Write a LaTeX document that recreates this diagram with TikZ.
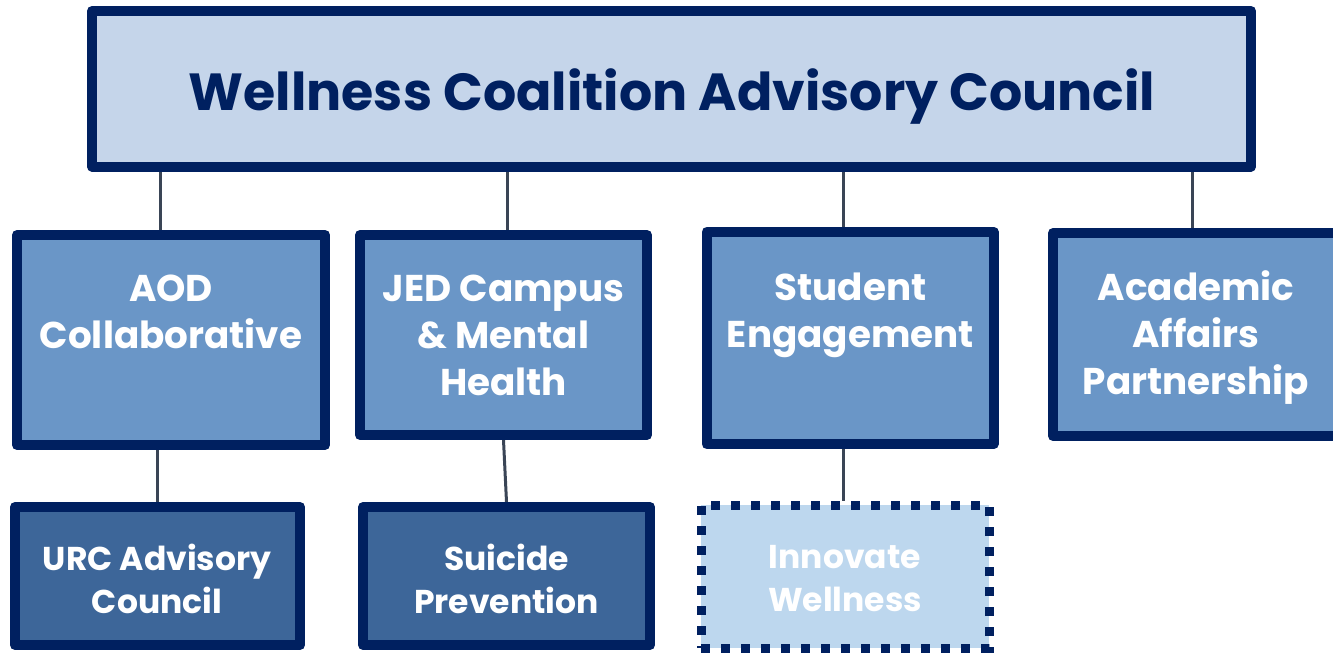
\documentclass[tikz,border=0pt]{standalone}
\usepackage{fontspec}
\usetikzlibrary{backgrounds}
\newfontfamily\gothic{Poppins}
\definecolor{navy}{RGB}{0,32,96}
\definecolor{topfill}{RGB}{197,213,234}
\definecolor{midfill}{RGB}{106,150,199}
\definecolor{lowfill}{RGB}{61,102,153}
\definecolor{innfill}{RGB}{189,215,238}
\definecolor{conncol}{RGB}{58,69,86}
\begin{document}
\begin{tikzpicture}[x=1pt,y=-1pt,
  boxbase/.style={rectangle,inner sep=0pt,draw=navy,line width=10pt,line join=round},
  topbox/.style={boxbase,fill=topfill},
  midbox/.style={boxbase,fill=midfill},
  lowbox/.style={boxbase,fill=lowfill},
  innbox/.style={rectangle,inner sep=0pt,draw=navy,fill=innfill,line width=9pt,dash pattern=on 9pt off 11pt},
  conn/.style={draw=conncol,line width=3pt},
  toptext/.style={inner sep=0pt,anchor=base,text=navy,font=\gothic\bfseries\fontsize{52.2}{60}\selectfont},
  midtext/.style={inner sep=0pt,anchor=base,align=center,text=white,font=\gothic\bfseries\fontsize{37.3}{47}\selectfont},
  lowtext/.style={inner sep=0pt,anchor=base,align=center,text=white,font=\gothic\bfseries\fontsize{33}{43}\selectfont}
]
\useasboundingbox (0,0) rectangle (1333,653);
\coordinate (x1) at (160,0);
\coordinate (x2) at (507,0);
\coordinate (x3) at (843.3,0);
\coordinate (x4) at (1192,0);
\coordinate (x5) at (157,0);
\node[topbox,minimum width=1159pt,minimum height=155.5pt] (wcac) at (671.5,88.75) {};
\node[midbox,minimum width=308pt,minimum height=210pt] (aod) at (171,340) {};
\node[midbox,minimum width=287pt,minimum height=200pt] (jed) at (503.5,335) {};
\node[midbox,minimum width=286.8pt,minimum height=212.6pt] (stu) at (850.1,338) {};
\node[midbox,minimum width=286pt,minimum height=203pt] (aap) at (1196,334.5) {};
\node[lowbox,minimum width=285pt,minimum height=138pt] (urc) at (157.5,576) {};
\node[lowbox,minimum width=287pt,minimum height=138pt] (sui) at (506.5,576) {};
\node[innbox,minimum width=288pt,minimum height=143pt] (inn) at (845,576.5) {};
\begin{pgfonlayer}{background}
\draw[conn] (wcac.south -| x1) -- (aod.north -| x1);
\draw[conn] (wcac.south -| x2) -- (jed.north -| x2);
\draw[conn] (wcac.south -| x3) -- (stu.north -| x3);
\draw[conn] (wcac.south -| x4) -- (aap.north -| x4);
\draw[conn] (aod.south -| x5) -- (urc.north -| x5);
\draw[conn] (jed.south) -- (sui.north);
\draw[conn] (stu.south -| x3) -- (inn.north -| x3);
\end{pgfonlayer}
\node[toptext] (ttop) at (672,110) {Wellness Coalition Advisory Council};
\node[midtext] (taod) at (171,348) {AOD\\Collaborative};
\node[midtext] (tjed) at (503.5,395) {JED Campus\\\& Mental\\Health};
\node[midtext] (tstu) at (850.5,347) {Student\\Engagement};
\node[midtext] (taap) at (1196,394) {Academic\\Affairs\\Partnership};
\node[lowtext] (turc) at (157,613) {URC Advisory\\Council};
\node[lowtext] (tsui) at (506.5,613) {Suicide\\Prevention};
\node[lowtext] (tinn) at (845,611) {Innovate\\Wellness};
\end{tikzpicture}
\end{document}
